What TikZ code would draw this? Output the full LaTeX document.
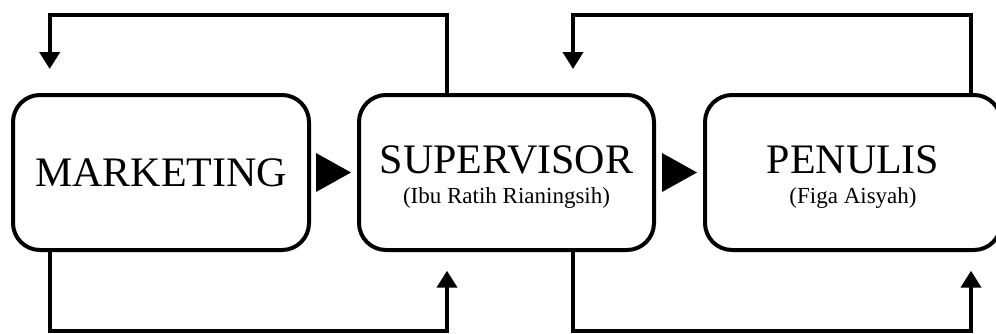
\documentclass[tikz,border=0pt]{standalone}
\usepackage{fontspec}
\setmainfont{Liberation Serif}
\usetikzlibrary{arrows.meta}
\begin{document}
\begin{tikzpicture}[x=1pt,y=1pt,
 box/.style={draw, line width=4pt, rounded corners=27pt, minimum width=296pt, minimum height=155pt, inner sep=0pt},
 conn/.style={line width=4pt, -{Triangle[width=20pt,length=17pt]}},
 bigtext/.style={font=\fontsize{42}{42}\selectfont, anchor=base, inner sep=0pt},
 smalltext/.style={font=\fontsize{23}{23}\selectfont, anchor=base, inner sep=0pt},
 tri/.style={fill=black}]
\useasboundingbox (0,0) rectangle (996,333);
\node[box] (mk) at (161,160.5) {};
\node[box, minimum width=295pt] (sup) at (506.5,160.5) {};
\node[box] (pen) at (853,160.5) {};
\node[bigtext] (mkt) at (161,147) {MARKETING};
\node[bigtext] (supt) at (506.5,160) {SUPERVISOR};
\node[smalltext] (sups) at (506.5,130) {(Ibu Ratih Rianingsih)};
\node[bigtext] (pent) at (853,160) {PENULIS};
\node[smalltext] (pens) at (853,130) {(Figa Aisyah)};
% loop coordinates
\coordinate (xA) at (447,0);
\coordinate (xB) at (573,0);
\coordinate (xC) at (971,0);
\coordinate (xD) at (49.7,0);
\coordinate (tl) at (49.7,317.7);
\coordinate (tipA) at (49.7,264);
\coordinate (br) at (447,2.5);
\coordinate (tipB) at (447,62.3);
\coordinate (tr) at (573,317.7);
\coordinate (tipC) at (573,264);
\coordinate (br2) at (971,2.5);
\coordinate (tipD) at (971,62.3);
\draw[conn] (sup.north -| xA) |- (tl) -- (tipA);
\draw[conn] (mk.south -| xD) |- (br) -- (tipB);
\draw[conn] (pen.north -| xC) |- (tr) -- (tipC);
\draw[conn] (sup.south -| xB) |- (br2) -- (tipD);
% arrows between boxes
\fill[tri] (316,180) -- (351,160.5) -- (316,141) -- cycle;
\fill[tri] (662,180) -- (697,160.5) -- (662,141) -- cycle;
\end{tikzpicture}
\end{document}
